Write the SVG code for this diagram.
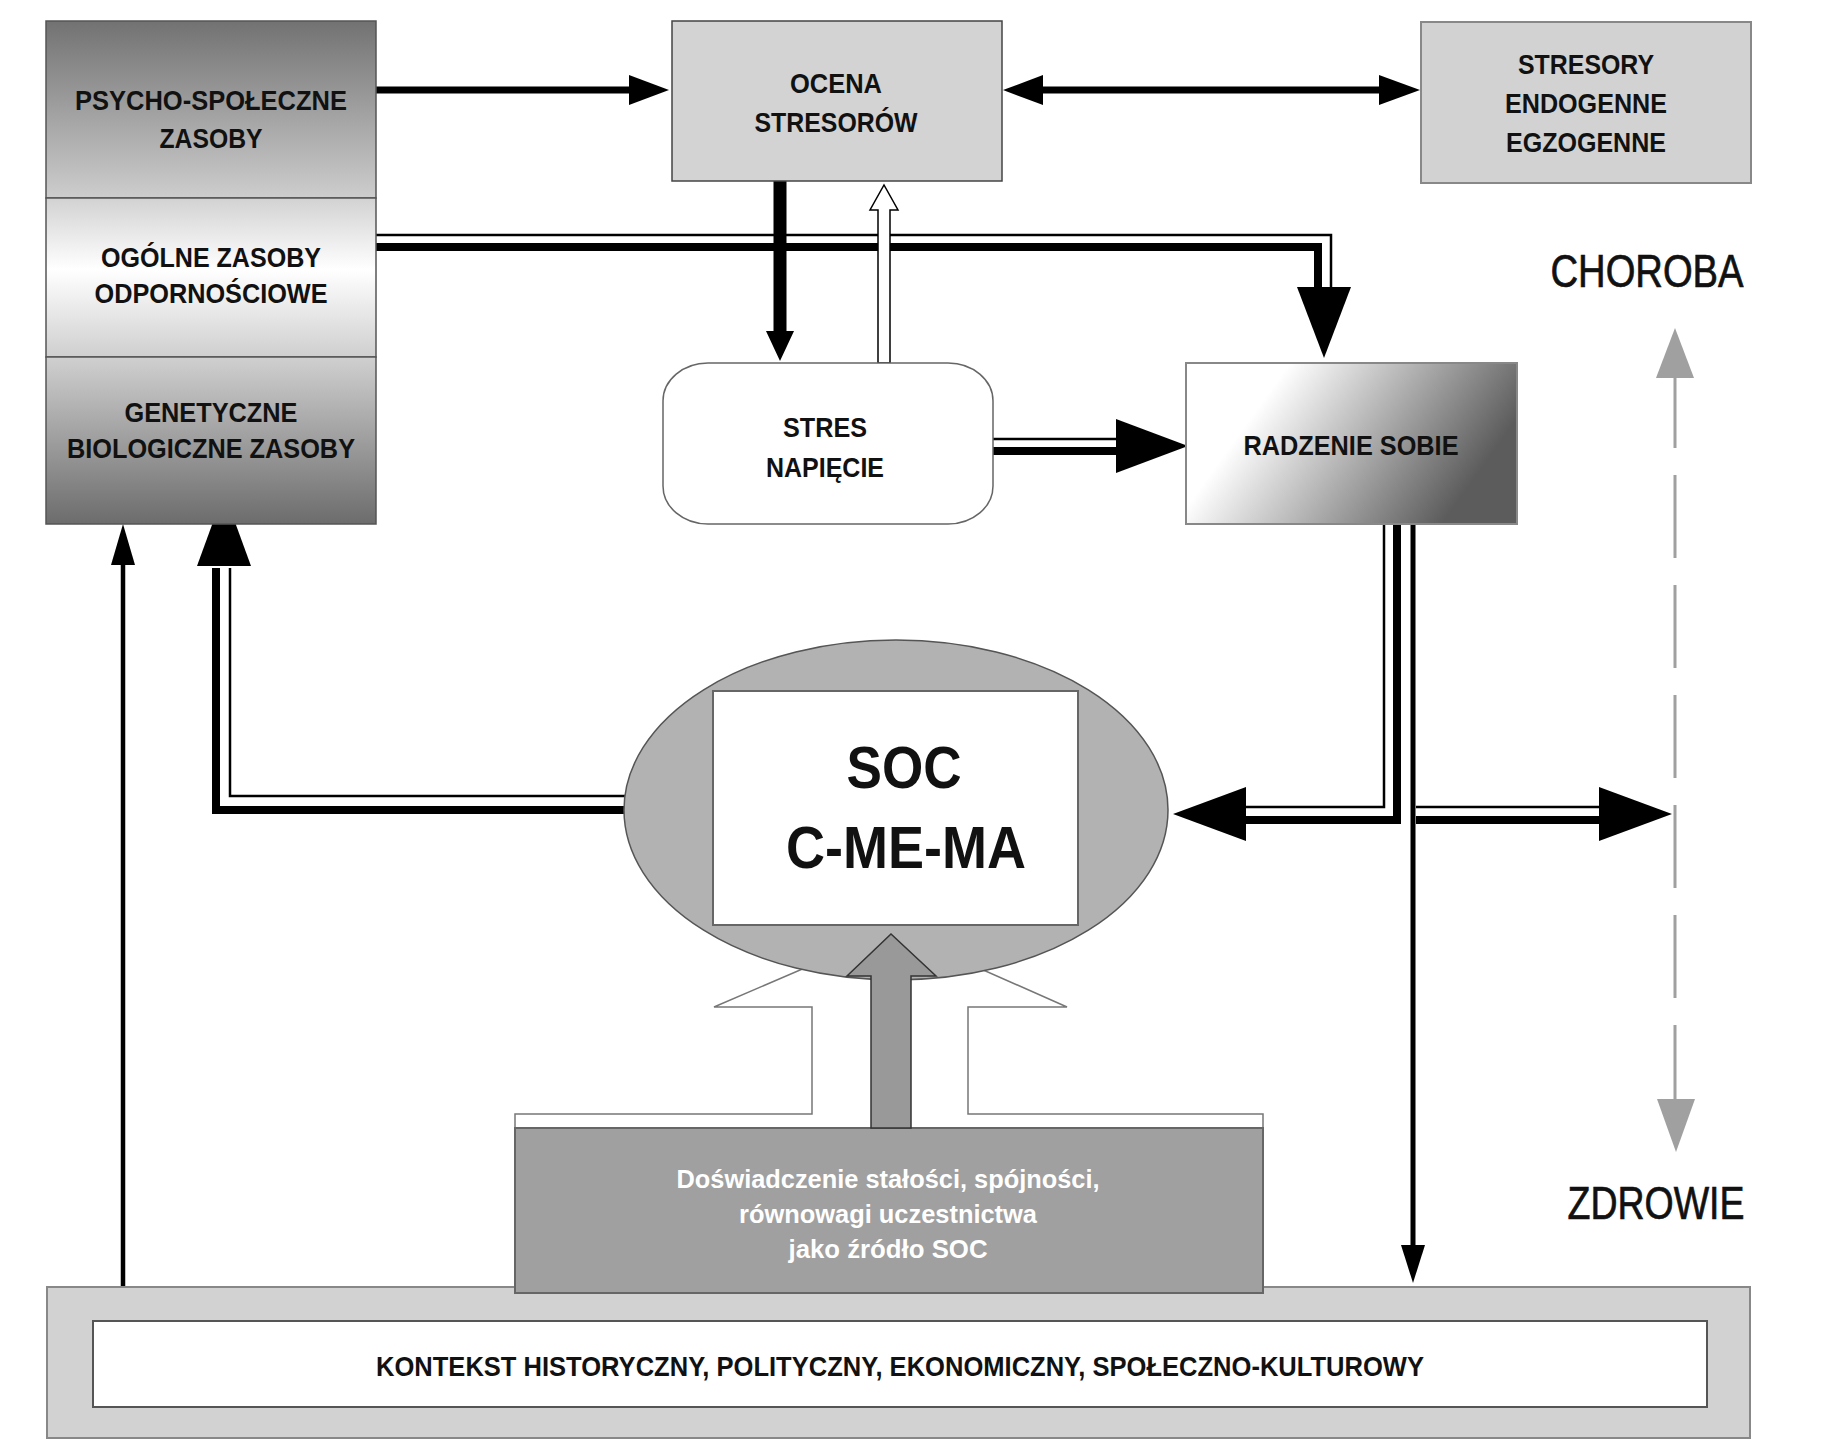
<svg xmlns="http://www.w3.org/2000/svg" width="1823" height="1456" viewBox="0 0 1823 1456">
<defs>
<linearGradient id="gTop" x1="0" y1="0" x2="0" y2="1"><stop offset="0" stop-color="#727272"/><stop offset="1" stop-color="#cdcdcd"/></linearGradient>
<linearGradient id="gMid" x1="0" y1="0" x2="0" y2="1"><stop offset="0" stop-color="#d2d2d2"/><stop offset="0.45" stop-color="#ffffff"/><stop offset="1" stop-color="#cfcfcf"/></linearGradient>
<linearGradient id="gBot" x1="0" y1="0" x2="0" y2="1"><stop offset="0" stop-color="#d0d0d0"/><stop offset="1" stop-color="#6c6c6c"/></linearGradient>
<linearGradient id="gRad" x1="0" y1="0" x2="1" y2="0.35"><stop offset="0.28" stop-color="#ffffff"/><stop offset="1" stop-color="#5c5c5c"/></linearGradient>
<style>
text{font-family:"Liberation Sans",Arial,sans-serif;text-anchor:middle}
.lb{font-weight:bold;font-size:28px;fill:#111}
.big{font-size:46px;fill:#111;stroke:#111;stroke-width:0.7}
.soc{font-weight:bold;font-size:60px;fill:#111}
.wt{font-weight:bold;font-size:25px;fill:#fff}
.thick{fill:none;stroke:#000;stroke-width:8}
.thin{fill:none;stroke:#000;stroke-width:2.5}
.blk{fill:#000}
</style>
</defs>

<g id="connectors">
<!-- PSYCHO -> OCENA -->
<line x1="376" y1="90" x2="631" y2="90" stroke="#000" stroke-width="7"/>
<polygon class="blk" points="669,90 629,75 629,105"/>
<!-- OCENA <-> STRESORY -->
<line x1="1041" y1="90" x2="1381" y2="90" stroke="#000" stroke-width="7"/>
<polygon class="blk" points="1003,90 1043,75 1043,105"/>
<polygon class="blk" points="1420,90 1379,75 1379,105"/>
<!-- OGOLNE -> RADZENIE -->
<path class="thin" d="M376 235 H1331 V288"/>
<path class="thick" d="M376 247 H1318 V288"/>
<polygon class="blk" points="1324,358 1297,287 1351,287"/>
<!-- OCENA -> STRES -->
<line x1="780" y1="181" x2="780" y2="333" stroke="#000" stroke-width="13"/>
<polygon class="blk" points="780,361 766,331 794,331"/>
<!-- STRES -> OCENA hollow -->
<polygon points="878,363 878,210 870,210 884,185 898,210 890,210 890,363" fill="#fff" stroke="#000" stroke-width="1.5"/>
<!-- STRES -> RADZENIE -->
<path class="thin" d="M993 439 H1118"/>
<path class="thick" d="M993 451 H1118"/>
<polygon class="blk" points="1188,446 1116,419 1116,473"/>
<!-- RADZENIE -> SOC (left) -->
<path class="thin" d="M1384 524 V807 H1244"/>
<path class="thick" d="M1397 524 V820 H1244"/>
<polygon class="blk" points="1173,814 1246,787 1246,841"/>
<!-- RADZENIE -> scale (right) -->
<path class="thin" d="M1416 807 H1601"/>
<path class="thick" d="M1416 820 H1601"/>
<polygon class="blk" points="1672,814 1599,787 1599,841"/>
<!-- RADZENIE -> KONTEKST -->
<line x1="1413" y1="524" x2="1413" y2="1247" stroke="#000" stroke-width="5"/>
<polygon class="blk" points="1413,1283 1401,1245 1425,1245"/>
<!-- SOC -> GENETYCZNE -->
<path class="thin" d="M626 796 H230 V568"/>
<path class="thick" d="M626 810 H216 V568"/>
<polygon class="blk" points="224,492 197,566 251,566"/>
<!-- KONTEKST -> left box -->
<line x1="123" y1="1286" x2="123" y2="563" stroke="#000" stroke-width="4.5"/>
<polygon class="blk" points="123,524 111,565 135,565"/>
<!-- CHOROBA / ZDROWIE scale -->
<line x1="1675" y1="378" x2="1675" y2="1099" stroke="#a0a0a0" stroke-width="3" stroke-dasharray="83 27" stroke-dashoffset="13"/>
<polygon fill="#a0a0a0" points="1675,328 1656,378 1694,378"/>
<polygon fill="#a0a0a0" points="1676,1152 1657,1099 1695,1099"/>
</g>

<g id="node-zasoby">
<rect x="46" y="21" width="330" height="177" fill="url(#gTop)" stroke="#555" stroke-width="1.5"/>
<rect x="46" y="198" width="330" height="159" fill="url(#gMid)" stroke="#555" stroke-width="1.5"/>
<rect x="46" y="357" width="330" height="167" fill="url(#gBot)" stroke="#555" stroke-width="1.5"/>
<text class="lb" x="211" y="110" textLength="272" lengthAdjust="spacingAndGlyphs">PSYCHO-SPOŁECZNE</text>
<text class="lb" x="211" y="148" textLength="103" lengthAdjust="spacingAndGlyphs">ZASOBY</text>
<text class="lb" x="211" y="267" textLength="220" lengthAdjust="spacingAndGlyphs">OGÓLNE ZASOBY</text>
<text class="lb" x="211" y="303" textLength="233" lengthAdjust="spacingAndGlyphs">ODPORNOŚCIOWE</text>
<text class="lb" x="211" y="422" textLength="173" lengthAdjust="spacingAndGlyphs">GENETYCZNE</text>
<text class="lb" x="211" y="458" textLength="288" lengthAdjust="spacingAndGlyphs">BIOLOGICZNE ZASOBY</text>
</g>

<g id="node-ocena">
<rect x="672" y="21" width="330" height="160" fill="#d3d3d3" stroke="#444" stroke-width="1.5"/>
<text class="lb" x="836" y="93" textLength="92" lengthAdjust="spacingAndGlyphs">OCENA</text>
<text class="lb" x="836" y="132" textLength="163" lengthAdjust="spacingAndGlyphs">STRESORÓW</text>
</g>

<g id="node-stresory">
<rect x="1421" y="22" width="330" height="161" fill="#d2d2d2" stroke="#888" stroke-width="2"/>
<text class="lb" x="1586" y="74" textLength="136" lengthAdjust="spacingAndGlyphs">STRESORY</text>
<text class="lb" x="1586" y="113" textLength="162" lengthAdjust="spacingAndGlyphs">ENDOGENNE</text>
<text class="lb" x="1586" y="152" textLength="160" lengthAdjust="spacingAndGlyphs">EGZOGENNE</text>
</g>

<g id="node-choroba">
<text class="big" x="1647" y="287" textLength="193" lengthAdjust="spacingAndGlyphs">CHOROBA</text>
</g>

<g id="node-zdrowie">
<text class="big" x="1656" y="1219" textLength="177" lengthAdjust="spacingAndGlyphs">ZDROWIE</text>
</g>

<g id="node-stres">
<rect x="663" y="363" width="330" height="161" rx="45" ry="38" fill="#fff" stroke="#666" stroke-width="1.5"/>
<text class="lb" x="825" y="437" textLength="84" lengthAdjust="spacingAndGlyphs">STRES</text>
<text class="lb" x="825" y="477" textLength="118" lengthAdjust="spacingAndGlyphs">NAPIĘCIE</text>
</g>

<g id="node-radzenie">
<rect x="1186" y="363" width="331" height="161" fill="url(#gRad)" stroke="#888" stroke-width="2"/>
<text class="lb" x="1351" y="455" textLength="215" lengthAdjust="spacingAndGlyphs">RADZENIE SOBIE</text>
</g>

<g id="node-kontekst">
<rect x="47" y="1287" width="1703" height="151" fill="#d2d2d2" stroke="#888" stroke-width="2"/>
<rect x="93" y="1321" width="1614" height="86" fill="#fff" stroke="#555" stroke-width="2"/>
<text class="lb" x="900" y="1376" font-size="27" textLength="1048" lengthAdjust="spacingAndGlyphs">KONTEKST HISTORYCZNY, POLITYCZNY, EKONOMICZNY, SPOŁECZNO-KULTUROWY</text>
</g>

<g id="node-zrodlo-arrow">
<polygon points="515,1128 515,1114 812,1114 812,1007 714,1007 893,930 1067,1007 968,1007 968,1114 1263,1114 1263,1128" fill="#fff" stroke="#777" stroke-width="1.5"/>
</g>

<g id="node-soc">
<ellipse cx="896" cy="810" rx="272" ry="170" fill="#b2b2b2" stroke="#555" stroke-width="1.5"/>
<rect x="713" y="691" width="365" height="234" fill="#fff" stroke="#666" stroke-width="2"/>
<text class="soc" x="904" y="788" textLength="115" lengthAdjust="spacingAndGlyphs">SOC</text>
<text class="soc" x="906" y="868" textLength="240" lengthAdjust="spacingAndGlyphs">C-ME-MA</text>
</g>

<g id="node-doswiadczenie">
<rect x="515" y="1128" width="748" height="165" fill="#a0a0a0" stroke="#666" stroke-width="2"/>
<text class="wt" x="888" y="1188" textLength="423" lengthAdjust="spacingAndGlyphs">Doświadczenie stałości, spójności,</text>
<text class="wt" x="888" y="1223" textLength="298" lengthAdjust="spacingAndGlyphs">równowagi uczestnictwa</text>
<text class="wt" x="888" y="1258" textLength="199" lengthAdjust="spacingAndGlyphs">jako źródło SOC</text>
</g>

<g id="node-gray-arrow">
<polygon points="871,1128 871,976 847,976 891,934 936,976 911,976 911,1128" fill="#999" stroke="#333" stroke-width="1.5"/>
</g>
</svg>
